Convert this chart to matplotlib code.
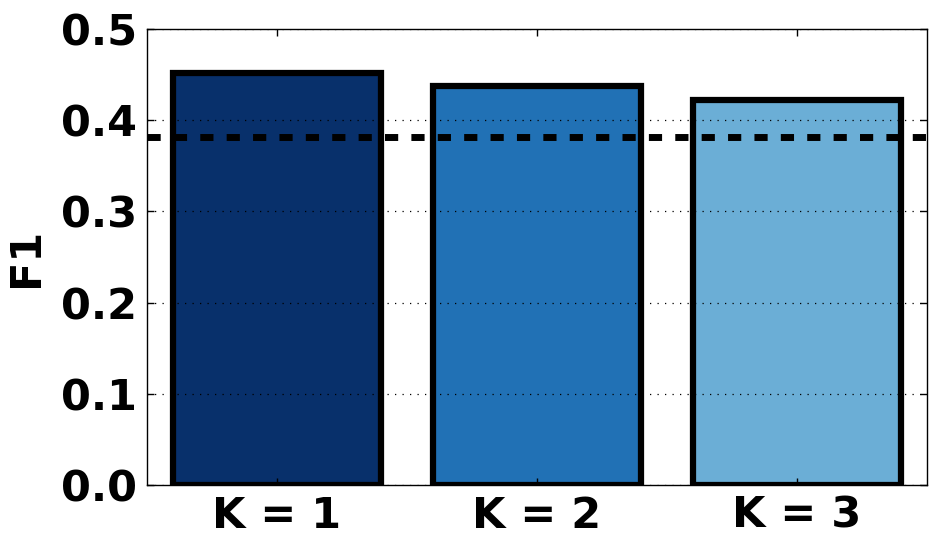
import matplotlib
matplotlib.use("Agg")
import matplotlib.pyplot as plt

# values
labels = ["K = 1", "K = 2", "K = 3"]
f1 = [0.452, 0.438, 0.422]
baseline = 0.382
colors = ["#08306b", "#2171b5", "#6baed6"]
yticks = [0.0, 0.1, 0.2, 0.3, 0.4, 0.5]

plt.rcParams['font.family'] = 'DejaVu Sans'
plt.rcParams['font.weight'] = 'bold'

fig = plt.figure(figsize=(9.34, 5.45), dpi=100)
ax = fig.add_axes([0.1574, 0.110, 0.835, 0.8368])

x = range(1, len(labels) + 1)
ax.bar(x, f1, width=0.8, color=colors, edgecolor="black", linewidth=4.5, zorder=1)
ax.axhline(baseline, color="black", linewidth=5, linestyle=(0, (1.9, 1.9)), zorder=3)

ax.set_xlim(0.5, 3.5)
ax.set_ylim(0, 0.5)
ax.set_xticks(list(x))
ax.set_xticklabels(labels)
ax.set_yticks(yticks)
ax.set_yticklabels(["%.1f" % t for t in yticks])
ax.yaxis.grid(True, linestyle=(0, (1, 5)), color="black", linewidth=0.9, zorder=2)
ax.set_axisbelow(False)
ax.tick_params(direction="in", top=True, right=True, length=5, width=1,
               labelsize=31, pad=7)
for s in ax.spines.values():
    s.set_linewidth(1)
ax.set_ylabel("F1", fontsize=31, fontweight="bold", labelpad=10)

fig.savefig("out.png", dpi=100, facecolor="white")
